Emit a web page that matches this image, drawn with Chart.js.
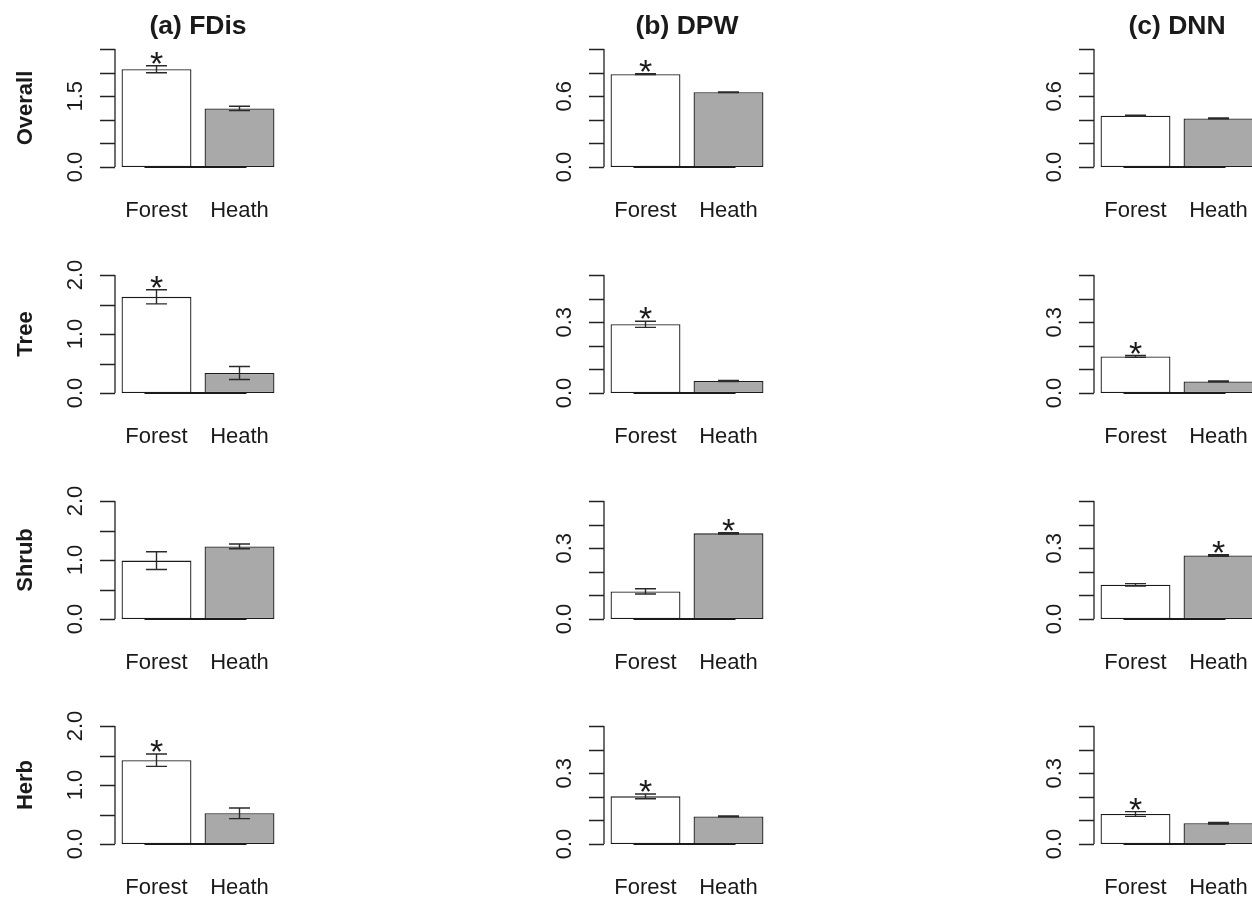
<!DOCTYPE html>
<html><head><meta charset="utf-8">
<script src="https://cdn.jsdelivr.net/npm/chart.js@4.4.1/dist/chart.umd.min.js"></script>
<style>
html,body{margin:0;padding:0;background:#fff;width:1252px;height:897px;overflow:hidden;position:relative;}
canvas{position:absolute;}
</style></head><body>
<script>
// ---- data ----
const categories = ['Forest', 'Heath'];
const metrics = ['(a) FDis', '(b) DPW', '(c) DNN'];
const groups = ['Overall', 'Tree', 'Shrub', 'Herb'];

// [group] -> [Forest, Heath]
const fdisMean = [[2.07, 1.24], [1.63, 0.34], [0.99, 1.23], [1.42, 0.52]];
const fdisSE   = [[0.074, 0.046], [0.12, 0.11], [0.15, 0.04], [0.105, 0.09]];
const fdisSig  = [[1, 0], [1, 0], [0, 0], [1, 0]];

const dpwMean = [[0.787, 0.634], [0.291, 0.051], [0.117, 0.363], [0.202, 0.117]];
const dpwSE   = [[0.003, 0.003], [0.013, 0.002], [0.011, 0.003], [0.010, 0.002]];
const dpwSig  = [[1, 0], [1, 0], [0, 1], [1, 0]];

const dnnMean = [[0.434, 0.412], [0.155, 0.049], [0.145, 0.269], [0.127, 0.088]];
const dnnSE   = [[0.004, 0.003], [0.004, 0.002], [0.005, 0.003], [0.010, 0.003]];
const dnnSig  = [[0, 0], [1, 0], [0, 1], [1, 0]];

// y axis per group
const fdisYMax = [2.5, 2, 2, 2];
const fdisYStep = [0.5, 0.5, 0.5, 0.5];
const fdisYLabels = [[0, 1.5], [0, 1, 2], [0, 1, 2], [0, 1, 2]];
const dpwYMax = [1, 0.5, 0.5, 0.5];
const dpwYStep = [0.2, 0.1, 0.1, 0.1];
const dpwYLabels = [[0, 0.6], [0, 0.3], [0, 0.3], [0, 0.3]];
const dnnYMax = [1, 0.5, 0.5, 0.5];
const dnnYStep = [0.2, 0.1, 0.1, 0.1];
const dnnYLabels = [[0, 0.6], [0, 0.3], [0, 0.3], [0, 0.3]];

const means = [fdisMean, dpwMean, dnnMean];
const ses = [fdisSE, dpwSE, dnnSE];
const sigs = [fdisSig, dpwSig, dnnSig];
const yMaxes = [fdisYMax, dpwYMax, dnnYMax];
const ySteps = [fdisYStep, dpwYStep, dnnYStep];
const yLabs = [fdisYLabels, dpwYLabels, dnnYLabels];

// ---- layout ----
const PW = 489, PH = 226;
const colLeft = [0, 489, 979];
const rowTop = [0, 226, 452, 677];
const FONT = '"Liberation Sans", Arial, Helvetica, sans-serif';
const INK = '#1a1a1a';

function makePanel(col, row) {
  const c = document.createElement('canvas');
  c.width = PW; c.height = PH;
  c.style.left = colLeft[col] + 'px';
  c.style.top = rowTop[row] + 'px';
  c.style.width = PW + 'px'; c.style.height = PH + 'px';
  document.body.appendChild(c);
  const m = means[col][row], se = ses[col][row], sg = sigs[col][row];
  const yMax = yMaxes[col][row], yStep = ySteps[col][row], yl = yLabs[col][row];

  const overlay = {
    id: 'rstyle',
    afterDatasetsDraw(chart) {
      const ctx = chart.ctx, xs = chart.scales.x, ys = chart.scales.y, ca = chart.chartArea;
      ctx.save();
      // base line between bars
      const y0 = ys.getPixelForValue(0);
      ctx.strokeStyle = INK; ctx.lineWidth = 2;
      ctx.beginPath();
      ctx.moveTo(xs.getPixelForValue(0) - 12, y0);
      ctx.lineTo(xs.getPixelForValue(1) + 7, y0);
      ctx.stroke();
      // y axis
      const ax = ca.left;
      ctx.lineWidth = 1.3; ctx.strokeStyle = '#222';
      ctx.beginPath();
      ctx.moveTo(ax, ys.getPixelForValue(0));
      ctx.lineTo(ax, ys.getPixelForValue(yMax));
      const n = Math.round(yMax / yStep);
      for (let k = 0; k <= n; k++) {
        const py = Math.round(ys.getPixelForValue(k * yStep)) + 0.5;
        ctx.moveTo(ax - 15, py); ctx.lineTo(ax, py);
      }
      ctx.stroke();
      ctx.fillStyle = INK;
      ctx.font = '22px ' + FONT;
      ctx.textAlign = 'center'; ctx.textBaseline = 'alphabetic';
      yl.forEach(v => {
        const py = ys.getPixelForValue(v);
        ctx.save(); ctx.translate(ax - 33.5, py); ctx.rotate(-Math.PI / 2);
        ctx.fillText(v.toFixed(1), 0, 0); ctx.restore();
      });
      // error bars + asterisks
      ctx.strokeStyle = '#2a2a2a'; ctx.lineWidth = 1.4;
      for (let i = 0; i < m.length; i++) {
        const px = xs.getPixelForValue(i);
        const top = ys.getPixelForValue(m[i] + se[i]);
        const bot = ys.getPixelForValue(m[i] - se[i]);
        ctx.beginPath();
        ctx.moveTo(px, top); ctx.lineTo(px, bot);
        ctx.moveTo(px - 10.5, top); ctx.lineTo(px + 10.5, top);
        ctx.moveTo(px - 10.5, bot); ctx.lineTo(px + 10.5, bot);
        ctx.stroke();
        if (sg[i]) {
          ctx.font = '34px ' + FONT;
          ctx.textAlign = 'center'; ctx.textBaseline = 'alphabetic';
          ctx.fillText('*', px, top - 10 + 0.56 * 34);
        }
      }
      // category labels
      ctx.font = '22px ' + FONT; ctx.textAlign = 'center'; ctx.textBaseline = 'alphabetic';
      categories.forEach((lab, i) => ctx.fillText(lab, xs.getPixelForValue(i), y0 + 50));
      // title
      if (row === 0) {
        ctx.font = 'bold 26.5px ' + FONT;
        ctx.fillText(metrics[col], (ca.left + ca.right) / 2, 34);
      }
      // group label
      if (col === 0) {
        ctx.font = 'bold 22px ' + FONT;
        ctx.save(); ctx.translate(31.7, (ca.top + ca.bottom) / 2); ctx.rotate(-Math.PI / 2);
        ctx.fillText(groups[row], 0, 0); ctx.restore();
      }
      ctx.restore();
    }
  };

  new Chart(c, {
    type: 'bar',
    data: {
      labels: categories,
      datasets: [{
        data: m,
        backgroundColor: ['#ffffff', '#a9a9a9'],
        borderColor: INK,
        borderWidth: 1.3,
        borderSkipped: false,
        categoryPercentage: 1,
        barPercentage: 0.842
      }]
    },
    options: {
      responsive: false, animation: false, devicePixelRatio: 1, events: [],
      layout: { padding: { left: 115, right: PW - 115 - 166, top: 49, bottom: PH - 167 } },
      scales: {
        x: { display: false, offset: true },
        y: { display: false, min: 0, max: yMax }
      },
      plugins: { legend: { display: false }, tooltip: { enabled: false }, title: { display: false } }
    },
    plugins: [overlay]
  });
}

for (let r = 0; r < 4; r++) for (let c = 0; c < 3; c++) makePanel(c, r);
</script>
</body></html>
